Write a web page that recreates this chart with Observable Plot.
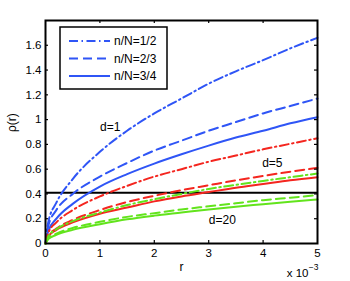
<!DOCTYPE html>
<html><head><meta charset="utf-8">
<script src="https://cdn.jsdelivr.net/npm/d3@7"></script>
<script src="https://cdn.jsdelivr.net/npm/@observablehq/plot@0.6"></script>
<style>body{margin:0;background:#fff} #chart{width:350px;height:281px}</style>
</head><body><div id="chart"></div>
<script>
// r values (x 10^-3)
const r = [0, 0.05, 0.2, 0.5, 1, 1.5, 2, 2.5, 3, 3.5, 4, 4.5, 5];
// d=1 (blue)
const d1Half   = [0, 0.17, 0.33, 0.52, 0.74, 0.91, 1.05, 1.17, 1.29, 1.39, 1.48, 1.575, 1.66];
const d1TwoThd = [0, 0.14, 0.27, 0.40, 0.54, 0.65, 0.75, 0.83, 0.91, 0.98, 1.05, 1.11, 1.17];
const d1ThrQtr = [0, 0.10, 0.20, 0.32, 0.46, 0.56, 0.645, 0.72, 0.79, 0.855, 0.91, 0.97, 1.02];
// d=5 (red)
const d5Half   = [0, 0.085, 0.17, 0.27, 0.38, 0.465, 0.54, 0.60, 0.66, 0.71, 0.76, 0.805, 0.85];
const d5TwoThd = [0, 0.06, 0.12, 0.19, 0.27, 0.335, 0.385, 0.43, 0.47, 0.51, 0.545, 0.58, 0.61];
const d5ThrQtr = [0, 0.055, 0.11, 0.17, 0.24, 0.29, 0.34, 0.38, 0.415, 0.45, 0.48, 0.51, 0.535];
// d=20 (green)
const d20Half   = [0, 0.057, 0.115, 0.18, 0.25, 0.31, 0.357, 0.40, 0.44, 0.473, 0.505, 0.535, 0.565];
const d20TwoThd = [0, 0.04, 0.08, 0.125, 0.175, 0.215, 0.245, 0.275, 0.30, 0.325, 0.35, 0.37, 0.39];
const d20ThrQtr = [0, 0.035, 0.07, 0.11, 0.155, 0.195, 0.225, 0.25, 0.275, 0.297, 0.317, 0.337, 0.355];

const refLine = [0.41];
const xTicks = [0, 1, 2, 3, 4, 5];
const yTicks = [0, 0.2, 0.4, 0.6, 0.8, 1, 1.2, 1.4, 1.6];
const legendLabels = ["n/N=1/2", "n/N=2/3", "n/N=3/4"];
const curveLabels = [{t: "d=1", x: 1.19, y: 0.94}, {t: "d=5", x: 4.17, y: 0.645}, {t: "d=20", x: 3.25, y: 0.19}];

const BLUE = "#2f55f6", RED = "#f4261f", GREEN = "#62e41c";
const DASHDOT = "9,3.5,1.5,3.5", DASH = "9,5", SOLID = null;
const series = [
  {v: d1Half, c: BLUE, s: DASHDOT}, {v: d1TwoThd, c: BLUE, s: DASH}, {v: d1ThrQtr, c: BLUE, s: SOLID},
  {v: d5Half, c: RED, s: DASHDOT}, {v: d5TwoThd, c: RED, s: DASH}, {v: d5ThrQtr, c: RED, s: SOLID},
  {v: d20Half, c: GREEN, s: DASHDOT}, {v: d20TwoThd, c: GREEN, s: DASH}, {v: d20ThrQtr, c: GREEN, s: SOLID}
];

const font = "Liberation Sans, Arial, Helvetica, sans-serif";
const tx = 0.055, ty = 0.025; // inward tick lengths in data units

const marks = [
  Plot.ruleY(refLine, {stroke: "#000", strokeWidth: 2}),
  ...series.map(s => Plot.line(r.map((x, i) => ({x, y: s.v[i]})), {
    x: "x", y: "y", stroke: s.c, strokeWidth: 2, strokeDasharray: s.s, curve: "monotone-x"
  })),
  Plot.frame({stroke: "#000", strokeWidth: 2}),
  Plot.ruleX(xTicks.slice(1, -1), {y1: 0, y2: ty, stroke: "#000", strokeWidth: 1.2}),
  Plot.ruleX(xTicks.slice(1, -1), {y1: 1.8 - ty, y2: 1.8, stroke: "#000", strokeWidth: 1.2}),
  Plot.ruleY(yTicks.slice(1), {x1: 0, x2: tx, stroke: "#000", strokeWidth: 1.2}),
  Plot.ruleY(yTicks.slice(1), {x1: 5 - tx, x2: 5, stroke: "#000", strokeWidth: 1.2}),
  Plot.axisX(xTicks, {tickSize: 0, tickPadding: 5, label: null, fontSize: 11.5}),
  Plot.axisY(yTicks, {tickSize: 0, tickPadding: 4, label: null, fontSize: 11.5, tickFormat: d => String(+d.toFixed(1))}),
  Plot.text(curveLabels, {x: "x", y: "y", text: "t", fontSize: 12, fill: "#000"}),
  Plot.text(["ρ(r)"], {frameAnchor: "left", dx: -33, rotate: -90, fontSize: 12, fill: "#000"}),
  Plot.text(["r"], {frameAnchor: "bottom", dy: 27, fontSize: 12, fill: "#000"}),
  Plot.text(["x 10"], {frameAnchor: "bottom-right", dx: -9, dy: 33, textAnchor: "end", fontSize: 11.5, fill: "#000"}),
  Plot.text(["−3"], {frameAnchor: "bottom-right", dx: 1, dy: 26, textAnchor: "end", fontSize: 8.5, fill: "#000"})
];

const plot = Plot.plot({
  width: 350, height: 281,
  marginLeft: 45, marginRight: 33, marginTop: 20, marginBottom: 38,
  x: {domain: [0, 5]},
  y: {domain: [0, 1.8]},
  style: {fontFamily: font, fontSize: "11.5px", color: "#000", background: "#fff"},
  marks
});

// legend box (layout in pixels)
const svg = d3.select(plot);
const g = svg.append("g").attr("font-family", font).attr("font-size", 12).attr("text-anchor", "start");
g.append("rect").attr("x", 60).attr("y", 27).attr("width", 107).attr("height", 62)
  .attr("fill", "#fff").attr("stroke", "#000").attr("stroke-width", 1.5);
const legStyles = [DASHDOT, DASH, SOLID];
const rowsY = [41, 58.5, 76];
legendLabels.forEach((lab, i) => {
  g.append("line").attr("x1", 69).attr("x2", 110).attr("y1", rowsY[i]).attr("y2", rowsY[i])
    .attr("stroke", BLUE).attr("stroke-width", 2).attr("stroke-dasharray", legStyles[i]);
  g.append("text").attr("x", 114).attr("y", rowsY[i]).attr("dy", "0.35em")
    .attr("text-anchor", "start").attr("fill", "#000").text(lab);
});

document.getElementById("chart").appendChild(plot);
</script>
</body></html>
